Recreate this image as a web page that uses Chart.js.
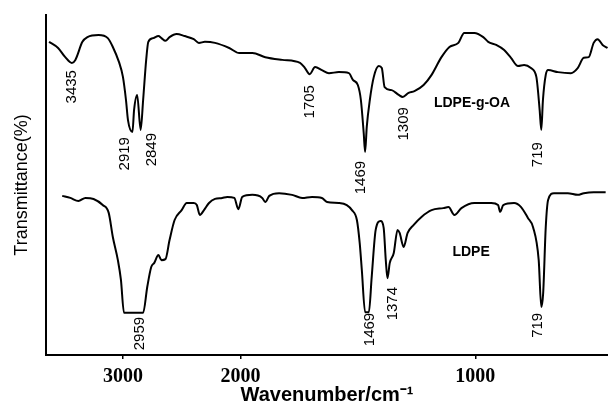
<!DOCTYPE html>
<html>
<head>
<meta charset="utf-8">
<title>FTIR LDPE / LDPE-g-OA</title>
<script src="https://cdn.jsdelivr.net/npm/chart.js@4/dist/chart.umd.min.js"></script>
<style>
  html, body { margin: 0; padding: 0; background: #fff; }
  #wrap { width: 608px; height: 409px; }
</style>
</head>
<body>
<div id="wrap"><canvas id="ftir"></canvas></div>
<script>
// spectra: wavenumber (cm-1) and transmittance (arbitrary %, offset curves)
var goaWn = [3629, 3552, 3491, 3435, 3405, 3345, 3302, 3207, 3129, 3086, 3034, 3000, 2974, 2957, 2919,
  2905, 2879, 2849, 2828, 2802, 2784, 2741, 2698, 2672, 2638, 2603, 2543, 2474, 2397, 2353, 2302, 2216,
  2095, 2009, 1949, 1894, 1822, 1746, 1725, 1705, 1682, 1653, 1623, 1581, 1538, 1521, 1500, 1487, 1475,
  1469, 1462, 1449, 1432, 1411, 1398, 1386, 1356, 1326, 1309, 1284, 1259, 1220, 1186, 1144, 1110, 1072,
  1047, 1004, 966, 945, 911, 877, 848, 818, 792, 763, 740, 726, 719, 712, 700, 690, 648, 593, 564, 538,
  517, 496, 479, 458, 437];
var goaT = [92.1, 90.3, 87.6, 85.9, 86.8, 92.1, 93.5, 94.1, 93.2, 90.6, 86.2, 81.8, 75.0, 69.1, 65.6,
  72.1, 76.5, 66.2, 75.0, 86.8, 92.1, 93.2, 93.8, 93.2, 92.4, 93.5, 94.4, 93.8, 92.9, 91.8, 92.1, 91.8,
  90.3, 88.8, 88.8, 87.6, 86.8, 85.9, 84.4, 82.6, 84.7, 83.8, 82.9, 83.2, 82.9, 80.9, 79.4, 75.0, 65.3,
  59.7, 67.1, 75.0, 81.8, 85.0, 84.4, 78.8, 77.9, 76.5, 75.9, 77.1, 77.6, 79.4, 82.4, 87.6, 90.6, 91.8,
  94.7, 94.7, 93.5, 92.1, 91.2, 89.7, 87.4, 85.0, 85.3, 84.4, 81.8, 72.1, 66.2, 75.0, 82.4, 83.8, 83.2,
  82.9, 84.4, 87.4, 87.6, 91.8, 92.9, 91.2, 90.3];

var ldpeWn = [3517, 3448, 3379, 3319, 3250, 3172, 3121, 3086, 3043, 3017, 2991, 2959, 2888, 2828, 2793,
  2759, 2733, 2698, 2672, 2638, 2603, 2560, 2500, 2457, 2397, 2371, 2345, 2310, 2267, 2216, 2155, 2112,
  2052, 2017, 1992, 1949, 1907, 1894, 1877, 1835, 1780, 1737, 1695, 1653, 1631, 1581, 1547, 1525, 1504,
  1492, 1483, 1469, 1453, 1441, 1424, 1403, 1390, 1381, 1374, 1364, 1347, 1331, 1322, 1305, 1288, 1263,
  1229, 1186, 1136, 1114, 1089, 1059, 1004, 932, 903, 894, 881, 835, 805, 776, 754, 730, 719, 711, 700,
  690, 665, 606, 564, 538, 496, 445];
var ldpeT = [46.8, 46.2, 45.3, 46.2, 45.9, 44.1, 41.8, 34.7, 27.9, 22.1, 12.4, 12.4, 12.4, 12.4, 20.0,
  25.9, 27.1, 29.4, 27.9, 28.2, 33.8, 39.7, 42.6, 44.7, 44.7, 44.1, 41.2, 42.6, 44.7, 45.9, 46.2, 46.5,
  46.2, 42.9, 46.5, 47.1, 46.2, 45.0, 46.8, 47.6, 47.1, 46.2, 46.5, 46.2, 45.0, 44.7, 44.1, 42.6, 39.7,
  32.9, 25.0, 12.6, 12.6, 22.9, 36.8, 39.4, 37.4, 27.9, 22.6, 27.1, 30.0, 36.8, 35.9, 31.8, 35.9, 38.2,
  40.6, 42.6, 43.2, 43.5, 41.2, 43.2, 44.7, 44.7, 44.1, 42.1, 44.1, 44.7, 43.5, 40.3, 37.6, 27.9, 14.1,
  18.2, 37.6, 45.6, 47.6, 47.6, 47.1, 47.6, 47.9, 47.9];

var tickWn = [3000, 2000, 1000];
var wnRange = [435, 3655];

// peak labels: text, and transmittance where the upper end of the label sits
var goaPeaks = ['3435', '2919', '2849', '1705', '1469', '1309', '719'];
var goaPeakT = [83.8, 64.1, 65.3, 79.4, 57.1, 72.9, 62.6];
var ldpePeaks = ['2959', '1469', '1374', '719'];
var ldpePeakT = [11.2, 12.4, 20.0, 12.4];

var seriesNames = ['LDPE-g-OA', 'LDPE'];
var seriesNameWn = [1014, 1018];
var seriesNameT = [74.1, 30.3];

// small sideways nudges (px) so labels don't sit on top of each other
var goaNudge = [0, -8, 11, 0, -4, 1, -3];
var ldpeNudge = [12, 5, 5, -3];

// the spectrometer halves the scale above 2000 cm-1
function axisPos(w) { return w > 2000 ? 2000 + (w - 2000) / 2 : w; }
function axisWn(u) { return u > 2000 ? 2000 + (u - 2000) * 2 : u; }

function toPoints(wn, t) {
  return wn.map(function (w, i) { return { x: axisPos(w), y: t[i] }; });
}

var SANS = '"Liberation Sans", Arial, sans-serif';

var labelPlugin = {
  id: 'peakLabels',
  afterDatasetsDraw: function (chart) {
    var ctx = chart.ctx, xs = chart.scales.x, ys = chart.scales.y;
    ctx.save();
    ctx.fillStyle = '#000';
    ctx.font = '15px ' + SANS;
    ctx.textAlign = 'right';
    ctx.textBaseline = 'middle';
    function vertical(list, tvals, nudge) {
      list.forEach(function (txt, i) {
        var px = xs.getPixelForValue(axisPos(+txt)) + nudge[i];
        var py = ys.getPixelForValue(tvals[i]);
        ctx.save();
        ctx.translate(px, py);
        ctx.rotate(-Math.PI / 2);
        ctx.fillText(txt, 0, 0);
        ctx.restore();
      });
    }
    vertical(goaPeaks, goaPeakT, goaNudge);
    vertical(ldpePeaks, ldpePeakT, ldpeNudge);

    ctx.font = 'bold 14px ' + SANS;
    ctx.textAlign = 'center';
    seriesNames.forEach(function (name, i) {
      ctx.fillText(name, xs.getPixelForValue(axisPos(seriesNameWn[i])), ys.getPixelForValue(seriesNameT[i]));
    });
    ctx.restore();
  }
};

var ctx = document.getElementById('ftir').getContext('2d');
var chart = new Chart(ctx, {
  type: 'line',
  data: {
    datasets: [{
      label: seriesNames[0],
      data: toPoints(goaWn, goaT),
      borderColor: '#000',
      borderWidth: 2,
      pointRadius: 0,
      cubicInterpolationMode: 'monotone',
      fill: false
    }, {
      label: seriesNames[1],
      data: toPoints(ldpeWn, ldpeT),
      borderColor: '#000',
      borderWidth: 2,
      pointRadius: 0,
      cubicInterpolationMode: 'monotone',
      fill: false
    }]
  },
  options: {
    responsive: true,
    maintainAspectRatio: false,
    animation: false,
    layout: { padding: { top: 15, right: 0, left: 0, bottom: 0 } },
    plugins: { legend: { display: false }, tooltip: { enabled: false } },
    scales: {
      x: {
        type: 'linear',
        reverse: true,
        min: axisPos(wnRange[0]),
        max: axisPos(wnRange[1]),
        afterBuildTicks: function (s) {
          s.ticks = tickWn.map(function (w) { return { value: axisPos(w) }; });
        },
        afterFit: function (s) { s.height = 54; },
        ticks: {
          autoSkip: false,
          maxRotation: 0,
          padding: 6,
          color: '#000',
          font: { family: '"Liberation Serif", "Times New Roman", serif', size: 20, weight: 'bold' },
          callback: function (v) { return String(Math.round(axisWn(v))); }
        },
        grid: { display: true, drawOnChartArea: false, drawTicks: true, tickLength: 4, color: '#000', lineWidth: 1.5 },
        border: { display: true, color: '#000', width: 2 },
        title: {
          display: true,
          text: 'Wavenumber/cm\u207B\u00B9',
          color: '#000',
          font: { family: SANS, size: 20, weight: 'bold' },
          padding: { top: 0, bottom: 2 }
        }
      },
      y: {
        min: 0,
        max: 100,
        afterFit: function (s) { s.width = 46; },
        ticks: { display: false },
        grid: { display: false },
        border: { display: true, color: '#000', width: 2 },
        title: {
          display: true,
          text: 'Transmittance(%)',
          color: '#000',
          font: { family: SANS, size: 18 },
          padding: { top: 11, bottom: 0 }
        }
      }
    }
  },
  plugins: [labelPlugin]
});
</script>
</body>
</html>
